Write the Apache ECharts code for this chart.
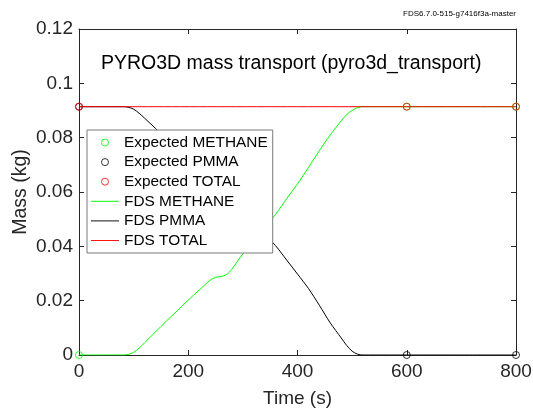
<!DOCTYPE html>
<html>
<head>
<meta charset="utf-8">
<script src="https://cdn.jsdelivr.net/npm/echarts@6/dist/echarts.min.js"></script>
<style>html,body{margin:0;padding:0;background:#fff;}#c{width:533px;height:413px;}</style>
</head>
<body>
<div id="c"></div>
<script>
// Data
var time = [0,20,40,60,80,90,100,110,120,140,160,180,200,220,240,250,260,270,280,290,300,320,340,360,380,400,420,440,460,480,490,500,510,520,540,600,700,800];
var fdsMethane = [0,0,0,0,0,0.0002,0.0010,0.0025,0.0045,0.0085,0.0125,0.0163,0.0202,0.0239,0.0275,0.0286,0.0289,0.0296,0.0316,0.0345,0.0372,0.0424,0.0470,0.0518,0.0575,0.0630,0.0690,0.0752,0.0810,0.0862,0.0885,0.0900,0.0911,0.0914,0.0914,0.0914,0.0914,0.0914];
var fdsPmma = [0.0914,0.0914,0.0914,0.0914,0.0914,0.0912,0.0905,0.0890,0.0872,0.0834,0.0795,0.0753,0.0712,0.0675,0.0639,0.0628,0.0625,0.0618,0.0598,0.0569,0.0542,0.0490,0.0444,0.0402,0.0350,0.0298,0.0245,0.0183,0.0118,0.0063,0.0035,0.0014,0.0003,0,0,0,0,0];
var totalTime = [0,800];
var fdsTotal = [0.0914,0.0914];
var expTime = [0,600,800];
var expMethane = [0,0.0914,0.0914];
var expPmma = [0.0914,0,0];
var expTotal = [0.0914,0.0914,0.0914];
var xTicks = {min:0,max:800,interval:200};
var yTicks = {min:0,max:0.12,interval:0.02};

function pairs(xs, ys){ return xs.map(function(x,i){ return [x, ys[i]]; }); }

var FONT = 'Liberation Sans, Arial, sans-serif';
var AX = '#262626';
var GREEN = '#00ff00', BLACK = '#000000', RED = '#ff0000';
var lineIcon = 'path://M0,0L30,0L30,1L0,1Z';

var chart = echarts.init(document.getElementById('c'), null, {renderer:'canvas'});
function expSeries(name, color, ys){
  return {name:name, type:'scatter', xAxisIndex:0, yAxisIndex:0, data:pairs(expTime, ys),
    symbol:'circle', symbolSize:7, silent:true, z:4,
    itemStyle:{color:'transparent', borderColor:color, borderWidth:1}};
}
function fdsSeries(name, color, xs, ys){
  return {name:name, type:'line', xAxisIndex:0, yAxisIndex:0, data:pairs(xs, ys),
    showSymbol:false, symbol:'none', smooth:0.3, silent:true, z:3,
    lineStyle:{color:color, width:1}, itemStyle:{color:color}};
}
var option = {
  animation:false,
  backgroundColor:'#ffffff',
  textStyle:{fontFamily:FONT},
  title:[
    {text:'PYRO3D mass transport (pyro3d_transport)', left:101, top:54, padding:0,
     textStyle:{fontFamily:FONT, fontSize:19.5, fontWeight:'normal', color:'#000', lineHeight:20}},
    {text:'FDS6.7.0-515-g7416f3a-master', right:17, top:9, padding:0,
     textStyle:{fontFamily:FONT, fontSize:8, fontWeight:'normal', color:'#000', lineHeight:9}}
  ],
  grid:{left:79, right:17, top:29, bottom:58, containLabel:false, outerBoundsMode:'none'},
  xAxis:[
    {type:'value', position:'bottom', min:xTicks.min, max:xTicks.max, interval:xTicks.interval,
     name:'Time (s)', nameLocation:'middle', nameGap:34,
     nameTextStyle:{fontFamily:FONT, fontSize:19, color:AX},
     axisLine:{show:true, onZero:false, lineStyle:{color:AX, width:1}},
     axisTick:{show:true, inside:true, length:5, lineStyle:{color:AX}},
     axisLabel:{fontFamily:FONT, fontSize:19, color:AX, margin:7},
     splitLine:{show:false}},
    {type:'value', position:'top', min:xTicks.min, max:xTicks.max, interval:xTicks.interval,
     axisLine:{show:true, onZero:false, lineStyle:{color:AX, width:1}},
     axisTick:{show:true, inside:true, length:5, lineStyle:{color:AX}},
     axisLabel:{show:false}, splitLine:{show:false}}
  ],
  yAxis:[
    {type:'value', position:'left', min:yTicks.min, max:yTicks.max, interval:yTicks.interval,
     name:'Mass (kg)', nameLocation:'middle', nameGap:48, nameMoveOverlap:false,
     nameTextStyle:{fontFamily:FONT, fontSize:19.5, color:AX},
     axisLine:{show:true, onZero:false, lineStyle:{color:AX, width:1}},
     axisTick:{show:true, inside:true, length:5, lineStyle:{color:AX}},
     axisLabel:{fontFamily:FONT, fontSize:19, color:AX, margin:6},
     splitLine:{show:false}},
    {type:'value', position:'right', min:yTicks.min, max:yTicks.max, interval:yTicks.interval,
     axisLine:{show:true, onZero:false, lineStyle:{color:AX, width:1}},
     axisTick:{show:true, inside:true, length:5, lineStyle:{color:AX}},
     axisLabel:{show:false}, splitLine:{show:false}}
  ],
  legend:{
    orient:'vertical', left:87, top:130, padding:[5,5,5,4], z:20,
    backgroundColor:'#ffffff', borderColor:'#7a7a7a', borderWidth:1,
    itemWidth:28, itemHeight:7, itemGap:4.6, selectedMode:false,
    textStyle:{fontFamily:FONT, fontSize:15.4, color:'#000', lineHeight:15},
    data:[
      {name:'Expected METHANE', icon:'circle', itemStyle:{color:'transparent', borderColor:GREEN, borderWidth:1}},
      {name:'Expected PMMA', icon:'circle', itemStyle:{color:'transparent', borderColor:BLACK, borderWidth:1}},
      {name:'Expected TOTAL', icon:'circle', itemStyle:{color:'transparent', borderColor:RED, borderWidth:1}},
      {name:'FDS METHANE', icon:lineIcon, itemStyle:{color:GREEN, borderWidth:0}},
      {name:'FDS PMMA', icon:lineIcon, itemStyle:{color:BLACK, borderWidth:0}},
      {name:'FDS TOTAL', icon:lineIcon, itemStyle:{color:RED, borderWidth:0}}
    ]
  },
  series:[
    fdsSeries('FDS METHANE', GREEN, time, fdsMethane),
    fdsSeries('FDS PMMA', BLACK, time, fdsPmma),
    fdsSeries('FDS TOTAL', RED, totalTime, fdsTotal),
    expSeries('Expected METHANE', GREEN, expMethane),
    expSeries('Expected PMMA', BLACK, expPmma),
    expSeries('Expected TOTAL', RED, expTotal)
  ]
};
chart.setOption(option);
</script>
</body>
</html>
